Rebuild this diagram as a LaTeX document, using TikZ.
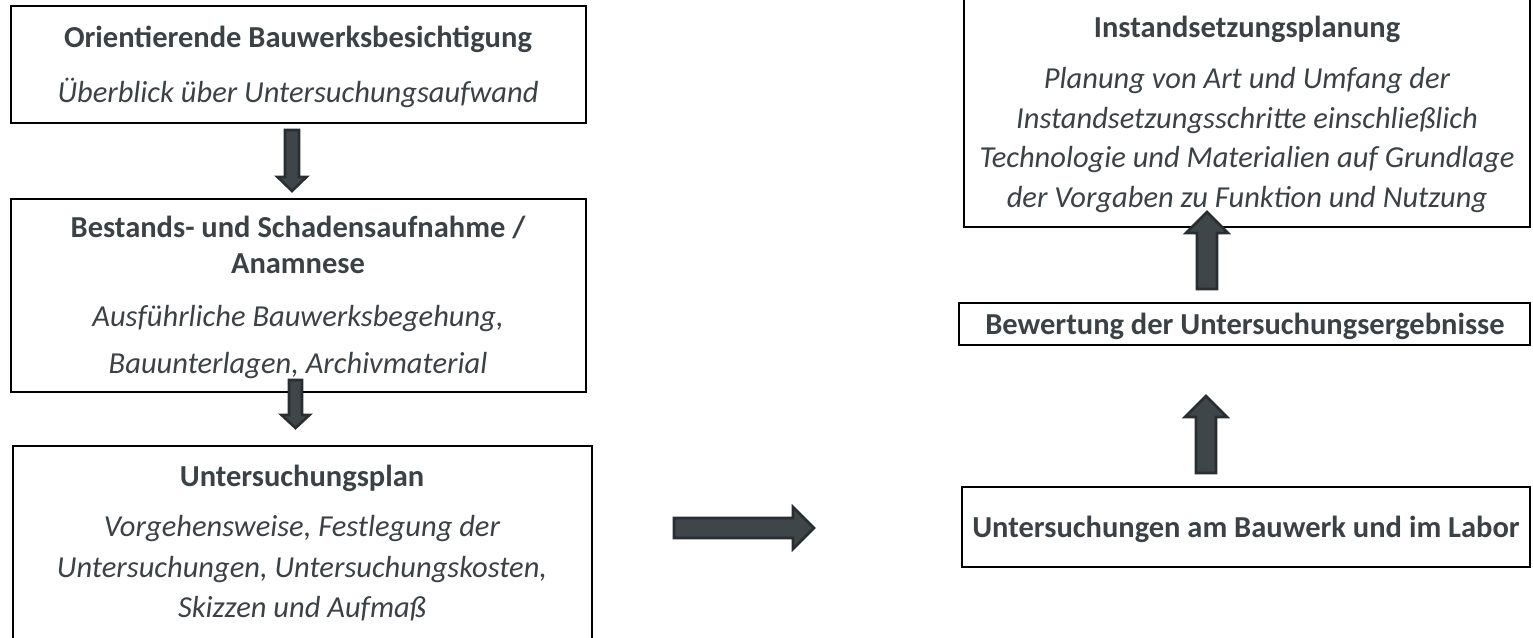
\documentclass[tikz,border=0pt]{standalone}
\usepackage{fontspec}
\setmainfont{Carlito}
\definecolor{txt}{RGB}{59,66,70}
\definecolor{arrline}{RGB}{40,46,49}
\definecolor{arrfill}{RGB}{62,70,73}
\begin{document}
\begin{tikzpicture}[x=1pt,y=-1pt,
  box/.style={draw=black,line width=2.2pt},
  ttl/.style={font=\fontsize{30.5}{37}\selectfont\bfseries,text=txt,inner sep=0pt,anchor=base},
  itl/.style={font=\fontsize{30.5}{37}\selectfont\itshape,text=txt,inner sep=0pt,anchor=base},
  barrow/.style={draw=arrline,fill=arrfill,line width=2.6pt,line join=miter}]
\useasboundingbox (0,0) rectangle (1533,637);
% boxes
\draw[box] (11,6) rectangle (586,123);
\draw[box] (11,199) rectangle (586,392);
\draw[box] (13,446) rectangle (592,660);
\draw[box] (964,-10) rectangle (1530,227);
\draw[box] (959,303) rectangle (1530,345);
\draw[box] (962,487) rectangle (1530,567);
% texts
\node[ttl] (t1) at (298,47) {Orientierende Bauwerksbesichtigung};
\node[itl] (s1) at (298,102) {Überblick über Untersuchungsaufwand};
\node[ttl] (t2a) at (298,237) {Bestands- und Schadensaufnahme /};
\node[ttl] (t2b) at (298,273) {Anamnese};
\node[itl] (s2a) at (298,326) {Ausführliche Bauwerksbegehung,};
\node[itl] (s2b) at (298,373) {Bauunterlagen, Archivmaterial};
\node[ttl] (t3) at (302,486) {Untersuchungsplan};
\node[itl] (s3a) at (302,536) {Vorgehensweise, Festlegung der};
\node[itl] (s3b) at (302,577) {Untersuchungen, Untersuchungskosten,};
\node[itl] (s3c) at (302,617) {Skizzen und Aufmaß};
\node[ttl] (t4) at (1247,37) {Instandsetzungsplanung};
\node[itl] (s4a) at (1247,88) {Planung von Art und Umfang der};
\node[itl] (s4b) at (1247,128) {Instandsetzungsschritte einschließlich};
\node[itl] (s4c) at (1247,167) {Technologie und Materialien auf Grundlage};
\node[itl] (s4d) at (1247,207) {der Vorgaben zu Funktion und Nutzung};
\node[ttl] (t5) at (1245,334) {Bewertung der Untersuchungsergebnisse};
\node[ttl] (t6) at (1246,537) {Untersuchungen am Bauwerk und im Labor};
% block arrows
\draw[barrow] (285,130) -- (299,130) -- (299,177) -- (306.5,177) -- (292,191) -- (277.5,177) -- (285,177) -- cycle;
\draw[barrow] (289,380) -- (302,380) -- (302,415) -- (309.5,415) -- (295.5,428) -- (281.5,415) -- (289,415) -- cycle;
\draw[barrow] (1197,289) -- (1217,289) -- (1217,233) -- (1228,233) -- (1207,212) -- (1186,233) -- (1197,233) -- cycle;
\draw[barrow] (1196,473) -- (1216,473) -- (1216,417) -- (1227,417) -- (1206,396) -- (1185,417) -- (1196,417) -- cycle;
\draw[barrow] (674,518) -- (793,518) -- (793,507) -- (814,528) -- (793,549) -- (793,538) -- (674,538) -- cycle;
\end{tikzpicture}
\end{document}
